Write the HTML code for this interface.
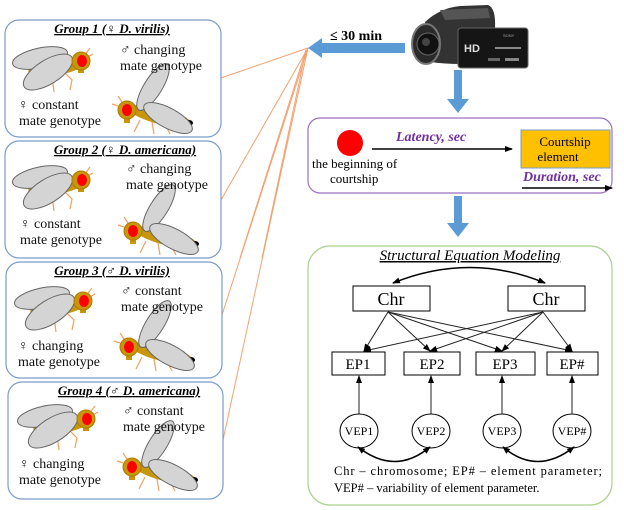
<!DOCTYPE html>
<html><head><meta charset="utf-8"><style>
body{margin:0;background:#fff;}
svg{display:block;font-family:"Liberation Serif",serif;}
</style></head><body>
<svg width="624" height="510" viewBox="0 0 624 510" xmlns="http://www.w3.org/2000/svg">
<defs>
<marker id="ah" markerWidth="8" markerHeight="8" refX="7" refY="4" orient="auto" markerUnits="userSpaceOnUse"><path d="M0,1 L8,4 L0,7z" fill="#000"/></marker>
<marker id="ah0" markerWidth="8" markerHeight="8" refX="1" refY="4" orient="auto" markerUnits="userSpaceOnUse"><path d="M8,1 L0,4 L8,7z" fill="#000"/></marker>
<g id="fly1">
<g stroke="#f0a060" stroke-width="1.2" fill="none">
<path d="M38,74 L34,90"/><path d="M52,76 L54,92"/><path d="M64,72 L72,80 L70,90"/><path d="M84,56 L90,48"/><path d="M86,58 L93,54"/>
</g>
<ellipse cx="56" cy="67" rx="28" ry="8" transform="rotate(-8 56 67)" fill="#c8960a"/>
<ellipse cx="40" cy="58" rx="28" ry="10" transform="rotate(-12 40 58)" fill="#d4d4d4" stroke="#666"/>
<ellipse cx="48" cy="72" rx="28" ry="12" transform="rotate(-32 48 72)" fill="#d4d4d4" stroke="#666"/>
<rect x="78" y="68" width="6" height="5" fill="#c8960a"/>
<circle cx="81" cy="61" r="9" fill="#c8960a" stroke="#b07a00"/>
<ellipse cx="82" cy="61" rx="5" ry="6" fill="#f00"/>
</g>
<g id="fly2">
<g stroke="#f0a060" stroke-width="1.2" fill="none">
<path d="M140,120 L134,132"/><path d="M152,122 L154,134"/><path d="M164,122 L170,134"/><path d="M118,106 L112,104"/><path d="M122,102 L118,96"/>
</g>
<ellipse cx="160" cy="116" rx="32" ry="8" transform="rotate(14 160 116)" fill="#c8960a"/>
<ellipse cx="189" cy="123" rx="4" ry="3" fill="#000"/>
<ellipse cx="153" cy="87" rx="9" ry="27" transform="rotate(32 153 87)" fill="#d4d4d4" stroke="#666"/>
<ellipse cx="168" cy="118" rx="27" ry="10" transform="rotate(28 168 118)" fill="#d4d4d4" stroke="#666"/>
<rect x="124" y="118" width="6" height="5" fill="#c8960a"/>
<circle cx="127" cy="110" r="9" fill="#c8960a" stroke="#b07a00"/>
<ellipse cx="127" cy="110" rx="5" ry="6" fill="#f00"/>
</g>
</defs>

<g stroke="#f4a070" stroke-width="1">
<line x1="308" y1="48" x2="221" y2="78"/>
<line x1="308" y1="48" x2="221" y2="200"/>
<line x1="308" y1="48" x2="221" y2="318"/>
<line x1="308" y1="48" x2="223" y2="440"/>
<line x1="306" y1="50" x2="240" y2="258"/>
<line x1="306" y1="50" x2="262" y2="258"/>
</g>

<g fill="#fff" stroke="#7a9cc6" stroke-width="1.2">
<rect x="5" y="20" width="216" height="117" rx="14"/>
<rect x="5" y="141" width="216" height="117" rx="14"/>
<rect x="6" y="262" width="216" height="116" rx="14"/>
<rect x="8" y="382" width="215" height="117" rx="14"/>
</g>
<use href="#fly1"/><use href="#fly2"/>
<use href="#fly1" transform="translate(0,119)"/><use href="#fly2" transform="translate(6,121)"/>
<use href="#fly1" transform="translate(2,240)"/><use href="#fly2" transform="translate(2,237)"/>
<use href="#fly1" transform="translate(5,358)"/><use href="#fly2" transform="translate(5,357)"/>

<g font-size="13" font-weight="bold" font-style="italic" text-anchor="middle">
<text x="112" y="33" text-decoration="underline">Group 1 (♀ D. virilis)</text>
<text x="125" y="154" text-decoration="underline">Group 2 (♀ D. americana)</text>
<text x="112" y="275" text-decoration="underline">Group 3 (♂ D. virilis)</text>
<text x="129" y="395" text-decoration="underline">Group 4 (♂ D. americana)</text>
</g>
<g font-size="14" fill="#111">
<text x="120" y="54">♂ changing</text><text x="120" y="70">mate genotype</text>
<text x="18" y="109">♀ constant</text><text x="19" y="125">mate genotype</text>
<text x="126" y="173">♂ changing</text><text x="126" y="189">mate genotype</text>
<text x="20" y="228">♀ constant</text><text x="20" y="244">mate genotype</text>
<text x="121" y="295">♂ constant</text><text x="121" y="311">mate genotype</text>
<text x="18" y="350">♀ changing</text><text x="18" y="366">mate genotype</text>
<text x="123" y="415">♂ constant</text><text x="123" y="431">mate genotype</text>
<text x="19" y="468">♀ changing</text><text x="19" y="484">mate genotype</text>
</g>

<!-- camera -->
<g>
<path d="M425,22 Q440,8 460,6 L488,5 Q496,8 495,28 L492,62 Q460,66 430,62 Z" fill="#333"/>
<path d="M440,10 L488,8 L490,18 L445,20 Z" fill="#555"/>
<ellipse cx="426" cy="44" rx="14" ry="20" fill="#2a2a2a" stroke="#777" stroke-width="2"/>
<circle cx="428" cy="44" r="11" fill="#111" stroke="#666"/>
<circle cx="426" cy="42" r="4" fill="#444"/>
<rect x="458" y="28" width="70" height="40" rx="3" fill="#151515" stroke="#666"/>
<text x="464" y="52" font-family="Liberation Sans,sans-serif" font-size="11" font-weight="bold" fill="#ddd">HD</text>
<text x="503" y="37" font-family="Liberation Sans,sans-serif" font-size="4" fill="#aaa">SONY</text>
<rect x="495" y="47" width="26" height="2" fill="#888"/>
<rect x="505" y="58" width="14" height="3" fill="#888"/>
<rect x="488" y="58" width="12" height="3" fill="#666"/>
</g>

<g fill="#5b9bd5">
<rect x="320" y="43" width="85" height="10"/><path d="M308,48 L322,38 L322,58 Z"/>
<rect x="454" y="70" width="8" height="30"/><path d="M447,99 L469,99 L458,113 Z"/>
<rect x="454" y="196" width="8" height="28"/><path d="M447,223 L469,223 L458,237 Z"/>
</g>
<text x="330" y="40" font-size="14" font-weight="bold">≤ 30 min</text>

<rect x="308" y="118" width="304" height="75" rx="12" fill="#fff" stroke="#9a70c0" stroke-width="1.2"/>
<circle cx="350" cy="143" r="13" fill="#f00"/>
<text x="312" y="168" font-size="13">the beginning  of</text>
<text x="330" y="183" font-size="13">courtship</text>
<text x="396" y="141" font-size="14" font-weight="bold" font-style="italic" fill="#7030a0">Latency, sec</text>
<line x1="372" y1="149" x2="512" y2="149" stroke="#000" stroke-width="1.5" marker-end="url(#ah)"/>
<rect x="521" y="130" width="89" height="38" fill="#ffc000" stroke="#7a9cc6"/>
<text x="565" y="146" font-size="13" text-anchor="middle">Courtship</text>
<text x="558" y="161" font-size="13" text-anchor="middle">element</text>
<text x="523" y="181" font-size="14" font-weight="bold" font-style="italic" fill="#7030a0">Duration, sec</text>
<line x1="522" y1="188" x2="612" y2="188" stroke="#000" stroke-width="1.5" marker-end="url(#ah)"/>

<rect x="308" y="246" width="304" height="259" rx="22" fill="#fff" stroke="#a9d18e" stroke-width="1.2"/>
<text x="470" y="260" font-size="15" font-style="italic" text-anchor="middle" text-decoration="underline">Structural Equation Modeling</text>
<path d="M393,283 Q470,252 545,283" fill="none" stroke="#000" stroke-width="1.5" marker-start="url(#ah0)" marker-end="url(#ah)"/>
<g fill="#fff" stroke="#000">
<rect x="353" y="286" width="77" height="25"/><rect x="508" y="286" width="77" height="25"/>
<rect x="332" y="352" width="53" height="23"/><rect x="404" y="352" width="56" height="23"/>
<rect x="476" y="352" width="59" height="23"/><rect x="547" y="352" width="51" height="23"/>
<ellipse cx="359" cy="431" rx="19" ry="17"/><ellipse cx="431" cy="431" rx="19" ry="17"/>
<ellipse cx="502" cy="431" rx="19" ry="17"/><ellipse cx="572" cy="431" rx="19" ry="17"/>
</g>
<g font-size="18" text-anchor="middle"><text x="391" y="305">Chr</text><text x="546" y="305">Chr</text></g>
<g font-size="15" text-anchor="middle"><text x="358" y="369">EP1</text><text x="432" y="369">EP2</text><text x="505" y="369">EP3</text><text x="572" y="369">EP#</text></g>
<g font-size="12" text-anchor="middle"><text x="359" y="435">VEP1</text><text x="431" y="435">VEP2</text><text x="502" y="435">VEP3</text><text x="572" y="435">VEP#</text></g>
<g stroke="#222" stroke-width="1" marker-end="url(#ah)">
<line x1="388" y1="312" x2="364" y2="351"/><line x1="388" y1="312" x2="430" y2="351"/>
<line x1="388" y1="312" x2="502" y2="351"/><line x1="388" y1="312" x2="572" y2="351"/>
<line x1="543" y1="312" x2="364" y2="351"/><line x1="543" y1="312" x2="430" y2="351"/>
<line x1="543" y1="312" x2="502" y2="351"/><line x1="543" y1="312" x2="572" y2="351"/>
<line x1="359" y1="414" x2="359" y2="376"/><line x1="431" y1="414" x2="431" y2="376"/>
<line x1="502" y1="414" x2="502" y2="376"/><line x1="572" y1="414" x2="572" y2="376"/>
</g>
<path d="M358,447 Q395,476 430,447" fill="none" stroke="#000" stroke-width="1.5" marker-start="url(#ah0)" marker-end="url(#ah)"/>
<path d="M503,447 Q537,476 574,447" fill="none" stroke="#000" stroke-width="1.5" marker-start="url(#ah0)" marker-end="url(#ah)"/>
<text x="334" y="475" font-size="12.5" textLength="268" lengthAdjust="spacing">Chr – chromosome; EP# – element parameter;</text>
<text x="334" y="492" font-size="12.5">VEP# – variability  of element parameter.</text>
</svg>
</body></html>
